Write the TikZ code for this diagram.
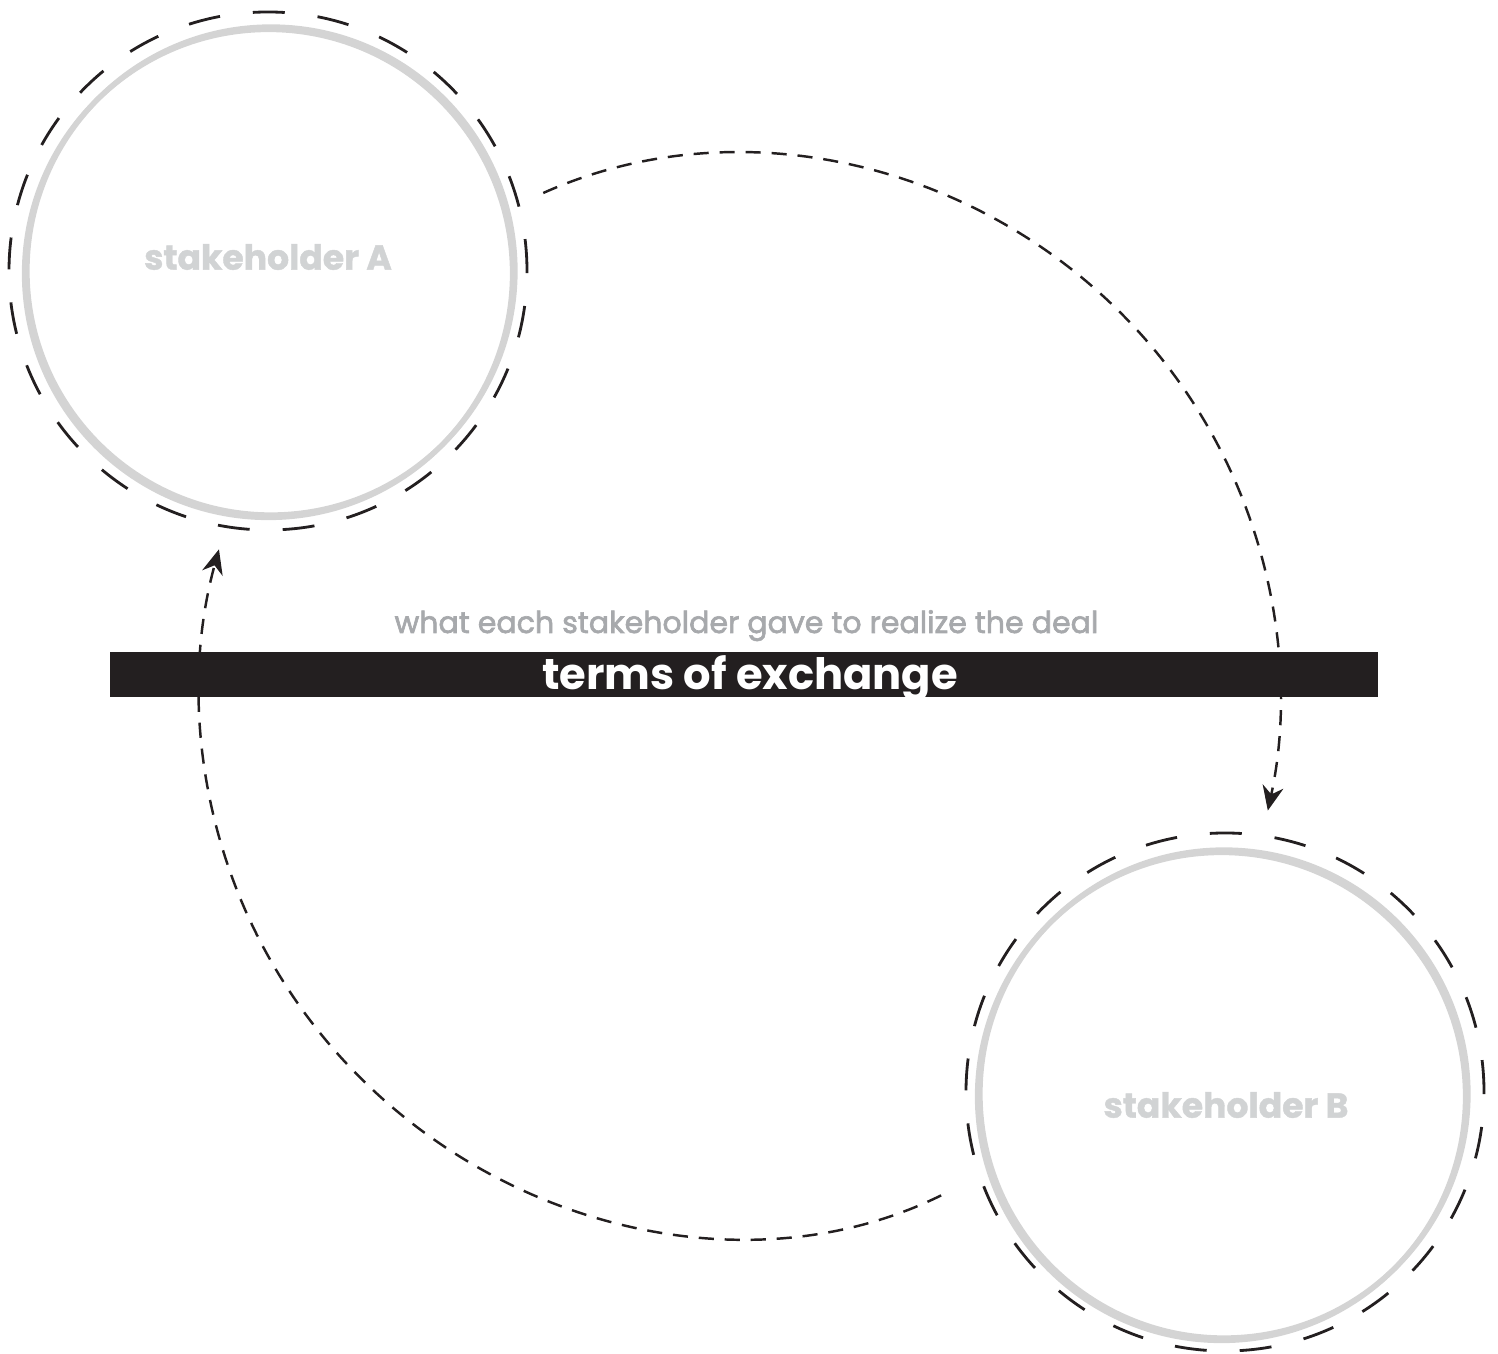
\documentclass[tikz,border=0pt]{standalone}
\usepackage{fontspec}
\setmainfont{Poppins}
\newfontfamily\notefont{Poppins}[FakeBold=2.2]
\newfontfamily\heavyfont{Poppins}[BoldFeatures={FakeBold=1.2}]
\usepackage{xcolor}
\usepackage{tikz}
\definecolor{inkblack}{RGB}{35, 31, 32}
\definecolor{ringgray}{RGB}{212, 212, 212}
\definecolor{labelgray}{RGB}{209, 211, 212}
\definecolor{notegray}{RGB}{167, 169, 172}
\usetikzlibrary{arrows.meta}

\begin{document}
\begin{tikzpicture}[
    party/.style={circle, draw=inkblack, line width=0.8pt, dash pattern=on 9.1pt off 9.4pt, minimum size=5.18cm, inner sep=0pt},
    ring/.style={draw=ringgray, line width=1.5pt},
    who/.style={text=labelgray, font=\heavyfont\fontsize{9.85}{12}\selectfont\bfseries},
    flow/.style={-{Stealth[length=7pt, width=6pt]}, draw=inkblack, line width=0.7pt, dash pattern=on 4.3pt off 3.1pt},
    banner/.style={rectangle, fill=inkblack, minimum width=12.68cm, minimum height=0.45cm, inner sep=0pt},
    title/.style={text=white, inner sep=0pt, text depth=0pt, font=\fontsize{12.3}{14}\selectfont\bfseries},
    note/.style={text=notegray, font=\notefont\fontsize{8.55}{10}\selectfont}
]
    \useasboundingbox (0, 0) rectangle (14.98, 13.54);

    \node[party] (A) at (2.68, 10.83) {};
    \node[party] (B) at (12.25, 2.62) {};
    % brush rings
    \draw[ring] (2.71, 10.83) circle[radius=2.44];
    \draw[ring] (2.685, 10.805) circle[radius=2.44];
    \draw[ring] (12.24, 2.60) circle[radius=2.44];
    \draw[ring] (12.215, 2.575) circle[radius=2.44];
    \node[who] (Alabel) at (2.68, 10.97) {stakeholder A};
    \node[who] (Blabel) at (12.26, 2.49) {stakeholder B};

    % both flows run on one big circle of radius 5.4
    \draw[flow, shorten <=0.26cm] (A.15.3) arc[start angle=114.1, end angle=-12.2, radius=5.4];
    \draw[flow, shorten <=0.42cm] (B.199.5) arc[start angle=-63.7, end angle=-195.4, radius=5.4];

    \node[banner] (bar) at (7.44, 6.795) {};
    \node[title, anchor=base] (tag) at (7.50, 6.64) {terms of exchange};
    \node[note, anchor=base] (sub) at (7.465, 7.21) {what each stakeholder gave to realize the deal};
\end{tikzpicture}
\end{document}
